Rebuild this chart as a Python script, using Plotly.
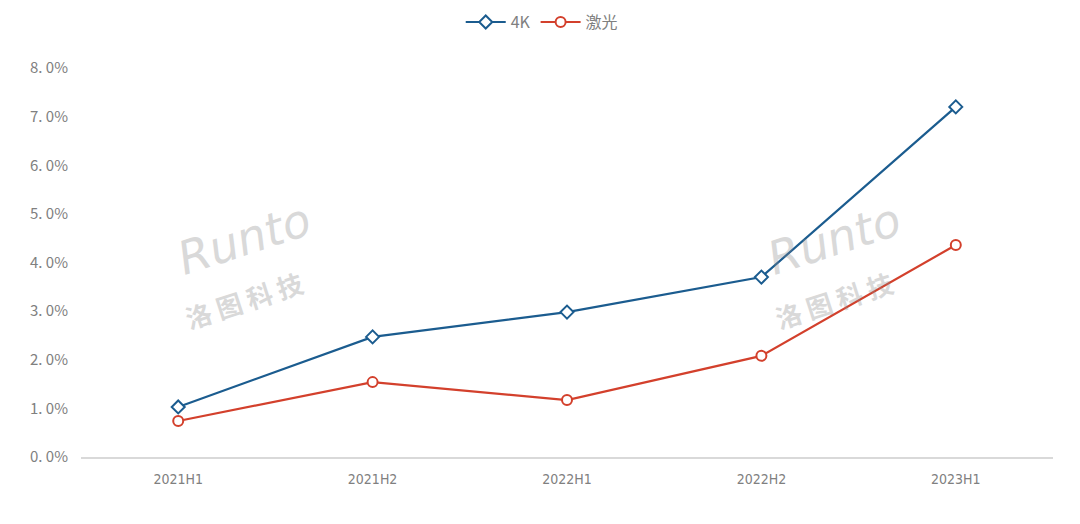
import plotly.graph_objects as go

periods = ["2021H1", "2021H2", "2022H1", "2022H2", "2023H1"]
share_4k = [0.0103, 0.0247, 0.0298, 0.0370, 0.0720]
share_laser = [0.0074, 0.0154, 0.0117, 0.0208, 0.0436]
y_ticks = [0, 0.01, 0.02, 0.03, 0.04, 0.05, 0.06, 0.07, 0.08]
y_tick_text = ["0. 0%", "1. 0%", "2. 0%", "3. 0%", "4. 0%", "5. 0%", "6. 0%", "7. 0%", "8. 0%"]

blue = "#1B5C8F"
red = "#D3402C"

fig = go.Figure()
fig.add_trace(go.Scatter(
    x=periods, y=share_4k, name="4K", mode="lines+markers",
    line=dict(color=blue, width=2.2),
    marker=dict(symbol="diamond", size=10, color="white", line=dict(color=blue, width=2)),
))
fig.add_trace(go.Scatter(
    x=periods, y=share_laser, name="激光", mode="lines+markers",
    line=dict(color=red, width=2.2),
    marker=dict(symbol="circle", size=10, color="white", line=dict(color=red, width=2)),
))

# watermarks
for cx in [0.168, 0.775]:
    fig.add_annotation(x=cx, y=0.56, xref="paper", yref="paper", text="<i>Runto</i>",
                       xanchor="center", yanchor="middle",
                       showarrow=False, textangle=-18, opacity=0.32,
                       font=dict(family="DejaVu Sans", size=46, color="#8a8a8a"))
    fig.add_annotation(x=cx, y=0.405, xref="paper", yref="paper", text="<b>洛 图 科 技</b>",
                       xanchor="center", yanchor="middle",
                       showarrow=False, textangle=-18, opacity=0.32,
                       font=dict(family="Noto Sans CJK SC", size=26, color="#8a8a8a"))

fig.update_layout(
    width=1080, height=524,
    margin=dict(l=73, r=35, t=60, b=75, autoexpand=False),
    plot_bgcolor="white", paper_bgcolor="white",
    font=dict(family="Noto Sans CJK SC", color="#808080"),
    legend=dict(orientation="h", x=0.474, xanchor="center", y=1.118, yanchor="middle",
                font=dict(size=16, color="#808080"), itemwidth=40),
    showlegend=True,
)
fig.update_xaxes(type="category", range=[-0.5, 4.5], showgrid=False, showline=True,
                 linecolor="#d9d9d9", linewidth=1.5, ticks="", automargin=False,
                 ticklabelstandoff=8,
                 tickfont=dict(family="DejaVu Sans Condensed, Liberation Sans Narrow, Roboto",
                               size=14, color="#808080"))
fig.update_yaxes(range=[0, 0.08], tickvals=y_ticks, ticktext=y_tick_text, showgrid=False,
                 zeroline=False, showline=False, ticks="", ticklabelstandoff=12, automargin=False,
                 tickfont=dict(family="Noto Sans CJK SC", size=15, color="#808080"))

fig.write_html("out.html")
